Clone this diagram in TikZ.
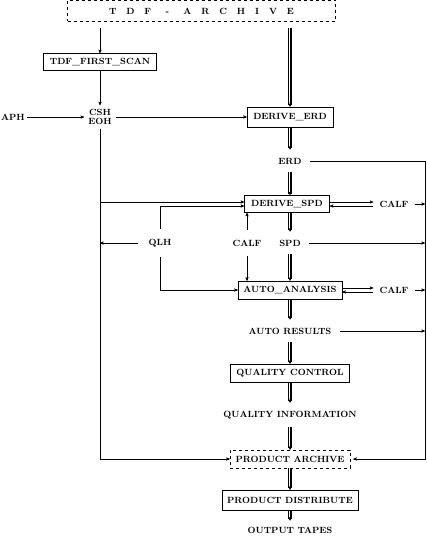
\documentclass[tikz,border=0pt]{standalone}
\usepackage{tikz}
\usetikzlibrary{arrows}
% three parallel lines, arrow on the middle one
\newcommand{\tripl}[2]{%
  \draw[-,shorten >=1.5pt,transform canvas={xshift=1.6pt}] #1 -- #2;
  \draw[-,shorten >=1.5pt,transform canvas={xshift=-1.6pt}] #1 -- #2;
  \draw #1 -- #2;}
\begin{document}
\begin{tikzpicture}[x=1pt,y=-1pt,->,>=stealth',thin,font=\fontsize{9}{10.5}\selectfont\bfseries]
\tikzstyle{box}=[draw,solid,inner sep=0pt,minimum height=18pt]
\tikzstyle{dbox}=[box,dashed]
\tikzstyle{lab}=[inner sep=2pt]
\useasboundingbox (0,0) rectangle (427,537);

\node[dbox,minimum width=268pt,minimum height=21pt] (TDFarch) at (201.5,11)
  {T\hspace{1.1em}D\hspace{1.1em}F\hspace{1.6em}-\hspace{1.6em}A\hspace{1.1em}R\hspace{1.1em}C\hspace{1.1em}H\hspace{1.1em}I\hspace{1.1em}V\hspace{1.1em}E};
\node[box,minimum width=113pt,minimum height=17pt] (firstscan) at (100,62) {TDF\_FIRST\_SCAN};
\node[lab] (aph) at (13,117) {APH};
\node[lab,align=center,inner sep=4pt] (csh) at (100,117) {CSH\\[-2pt]EOH};
\node[box,minimum width=86pt,minimum height=20pt] (deriveerd) at (290,117) {DERIVE\_ERD};
\node[lab,inner sep=8pt] (erd) at (290,161) {ERD};
\node[box,minimum width=85pt,minimum height=17pt] (derivespd) at (287,204) {DERIVE\_SPD};
\node[lab,inner sep=6pt] (calfa) at (394,204) {CALF};
\node[lab,inner sep=10pt] (qlh) at (160,243) {QLH};
\node[lab,inner sep=10pt] (calfb) at (247,243) {CALF};
\node[lab,inner sep=8pt] (spd) at (290,243) {SPD};
\node[box,minimum width=104pt,minimum height=18pt] (autoan) at (290,290) {AUTO\_ANALYSIS};
\node[lab,inner sep=6pt] (calfc) at (394,290) {CALF};
\node[lab,inner sep=8pt] (autores) at (290,331) {AUTO RESULTS};
\node[box,minimum width=119pt,minimum height=18pt] (qc) at (290,373) {QUALITY CONTROL};
\node[lab,inner sep=8pt] (qinfo) at (290,415) {QUALITY INFORMATION};
\node[dbox,minimum width=120pt,minimum height=18pt] (parch) at (290,459) {PRODUCT ARCHIVE};
\node[box,minimum width=136pt,minimum height=20pt] (pdist) at (290,500) {PRODUCT DISTRIBUTE};
\node[lab,inner sep=6pt] (otapes) at (290,530) {OUTPUT TAPES};
\coordinate (rtop) at (425,161);

% left column
\draw[shorten <=6pt] (firstscan |- TDFarch.south) -- (firstscan);
\draw (firstscan) -- (csh);
\draw (aph) -- (csh);
\draw (csh) -- (deriveerd);
\draw[-] (csh) -- (csh |- parch);
\draw (csh |- parch) -- (parch);
\draw ([yshift=2pt]derivespd.west -| csh) -- ([yshift=2pt]derivespd.west);
\draw (qlh) -- (qlh -| csh);
\draw (qlh) |- ([yshift=-2pt]derivespd.west);
\draw (qlh) |- (autoan);
\draw (calfb) -- (calfb |- derivespd.south);
\draw (calfb) -- (calfb |- autoan.north);

% main stream
\tripl{([yshift=-6pt]deriveerd |- TDFarch.south)}{(deriveerd)}
\tripl{(deriveerd)}{(erd)}
\tripl{(erd)}{(erd |- derivespd.north)}
\tripl{(erd |- derivespd.south)}{(spd)}
\tripl{(spd)}{(autoan)}
\tripl{(autoan)}{(autores)}
\tripl{(autores)}{(qc)}
\tripl{(qc)}{(qinfo)}
\tripl{(qinfo)}{(parch)}
\tripl{(parch)}{(pdist)}
\tripl{(pdist)}{(otapes)}

% calibration files
\draw ([yshift=2pt]derivespd.east) -- ([yshift=2pt]calfa.west);
\draw[<-] ([yshift=-2pt]derivespd.east) -- ([yshift=-2pt]calfa.west);
\draw ([yshift=2pt]autoan.east) -- ([yshift=2pt]calfc.west);
\draw[<-] ([yshift=-2pt]autoan.east) -- ([yshift=-2pt]calfc.west);

% right column
\draw[-] (erd) -- (rtop);
\draw (rtop) |- ([xshift=3pt]parch.east);
\draw (calfa) -- (calfa -| rtop);
\draw (spd) -- (spd -| rtop);
\draw (calfc) -- (calfc -| rtop);
\draw (autores) -- (autores -| rtop);
\end{tikzpicture}
\end{document}
